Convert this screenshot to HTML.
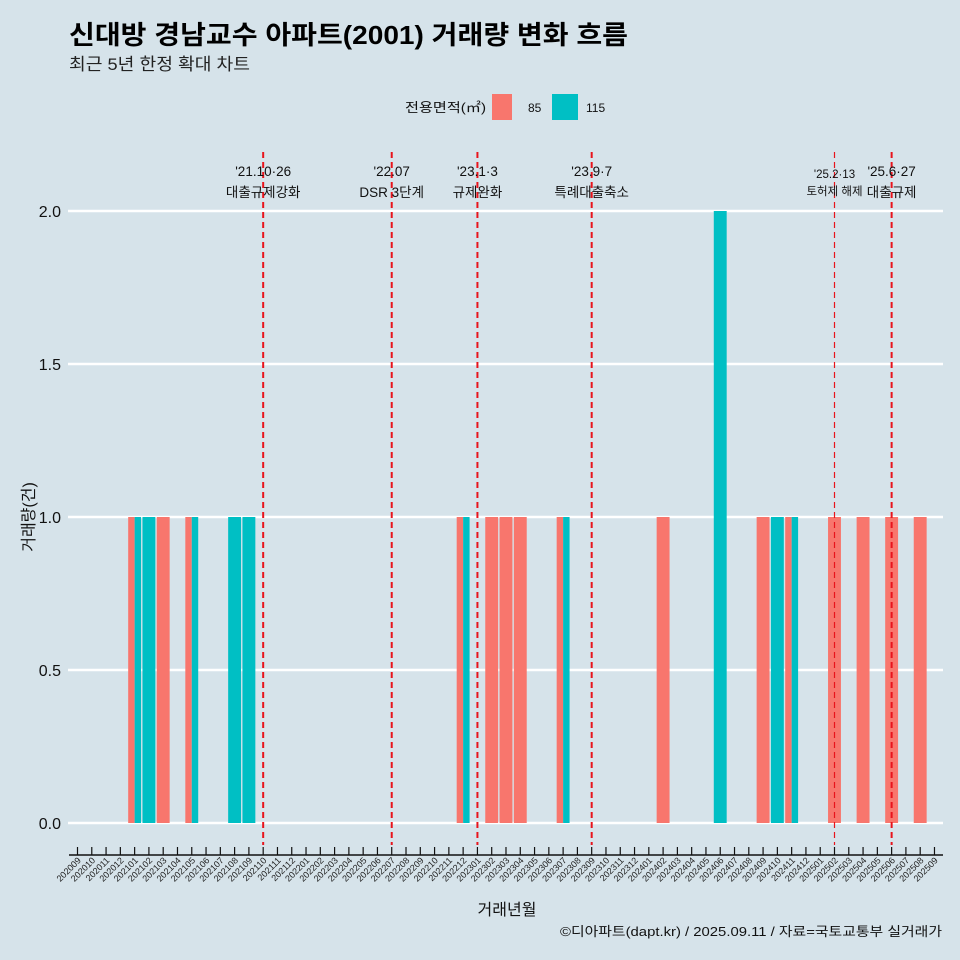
<!DOCTYPE html>
<html><head><meta charset="utf-8"><style>
body{margin:0;background:#d6e3ea;}
svg{display:block;font-family:"Liberation Sans","Noto Sans CJK KR",sans-serif;}
</style></head><body>
<svg id="c" width="960" height="960" viewBox="0 0 960 960" xmlns="http://www.w3.org/2000/svg">
<rect width="960" height="960" fill="#d6e3ea"/>
<text x="69" y="44" font-size="26" font-weight="bold" fill="#000" textLength="559" lengthAdjust="spacingAndGlyphs">신대방 경남교수 아파트(2001) 거래량 변화 흐름</text>
<text x="69" y="70" font-size="17" fill="#222" textLength="181" lengthAdjust="spacingAndGlyphs">최근 5년 한정 확대 차트</text>
<g>
<text x="405" y="112" font-size="13" fill="#111" textLength="81" lengthAdjust="spacingAndGlyphs">전용면적(㎡)</text>
<rect x="492" y="94" width="20" height="26" fill="#f8766d"/>
<text x="528" y="112" font-size="12" fill="#111">85</text>
<rect x="552" y="94" width="26" height="26" fill="#00bfc4"/>
<text x="586" y="112" font-size="12" fill="#111">115</text>
</g>
<g id="grid"></g><g id="bars"></g><g id="vl"></g><g id="ax"></g>
<text x="507" y="915" font-size="16" text-anchor="middle" fill="#111">거래년월</text>
<text transform="translate(34,517) rotate(-90)" font-size="16" text-anchor="middle" fill="#111">거래량(건)</text>
<text x="942" y="936" font-size="13" text-anchor="end" fill="#111" textLength="382" lengthAdjust="spacingAndGlyphs">©디아파트(dapt.kr) / 2025.09.11 / 자료=국토교통부 실거래가</text>
</svg>
<script>
const months=[];for(let y=2020,m=9;!(y===2025&&m>9);){months.push(y+String(m).padStart(2,'0'));m++;if(m>12){m=1;y++;}}
const cat85=['202101','202103','202105','202212','202302','202303','202304','202307','202402','202409','202411','202502','202504','202506','202508'];
const val85=[1,1,1,1,1,1,1,1,1,1,1,1,1,1,1];
const cat115=['202101','202102','202105','202108','202109','202212','202307','202406','202410','202411'];
const val115=[1,1,1,1,1,1,1,2,1,1];
const yTicks=[0,0.5,1,1.5,2];
const yTickLabels=['0.0','0.5','1.0','1.5','2.0'];
const evMonths=['202110','202207','202301','202309','202502','202506'];
const evL1=["'21.10·26","'22.07","'23.1·3","'23.9·7","'25.2·13","'25.6·27"];
const evL2=['대출규제강화','DSR 3단계','규제완화','특례대출축소','토허제 해제','대출규제'];
const NS='http://www.w3.org/2000/svg';
const X=i=>77.5+i*14.283, Y=v=>823-v*306;
function mk(p,t,a){const e=document.createElementNS(NS,t);for(const k in a)e.setAttribute(k,a[k]);document.getElementById(p).appendChild(e);return e;}
yTicks.forEach((v,i)=>{
 let l=mk('grid','line',{x1:68,x2:943,y1:Y(v),y2:Y(v),stroke:'#fff','stroke-width':2.4});
 
 
 let t=mk('grid','text',{x:61,y:Y(v)+6,'font-size':16,'text-anchor':'end',fill:'#111'});t.textContent=yTickLabels[i];
 
 
});
const W=12.9;
function drawBar(c,v,col,other,first){
 const i=months.indexOf(c);let x0=X(i)-W/2,w=W;
 if(other.includes(c)){w=W/2;if(!first)x0+=W/2;}
 const r=mk('bars','rect',{x:x0,y:Y(v),width:w,height:Y(0)-Y(v),fill:col});
 
 
}
cat85.forEach((c,k)=>drawBar(c,val85[k],'#f8766d',cat115,true));
cat115.forEach((c,k)=>drawBar(c,val115[k],'#00bfc4',cat85,false));
evMonths.forEach((m,k)=>{
 const x=X(months.indexOf(m));const thin=m==='202502';
 const l=mk('vl','line',{x1:x,x2:x,y1:152,y2:845,stroke:'#e8141c','stroke-width':thin?1.2:2,'stroke-dasharray':'6,4'});
 
 
 const fs=thin?11.5:13.5;
 const t1=mk('vl','text',{x:x,y:thin?178:176,'font-size':fs,'text-anchor':'middle',fill:'#111'});t1.textContent=evL1[k];
 
 
 const t2=mk('vl','text',{x:x,y:thin?195:197,'font-size':fs,'text-anchor':'middle',fill:'#111'});t2.textContent=evL2[k];
 
 
});
const ax=mk('ax','line',{x1:69,x2:943,y1:855,y2:855,stroke:'#111','stroke-width':1.5});


months.forEach((m,i)=>{
 const x=X(i);
 const tk=mk('ax','line',{x1:x,x2:x,y1:847,y2:855,stroke:'#111','stroke-width':1.2});
 
 
 const t=mk('ax','text',{transform:`translate(${x+4},${861}) rotate(-45)`,'font-size':9,'text-anchor':'end',fill:'#222'});
 t.textContent=m;
 
 
});
</script>
</body></html>
